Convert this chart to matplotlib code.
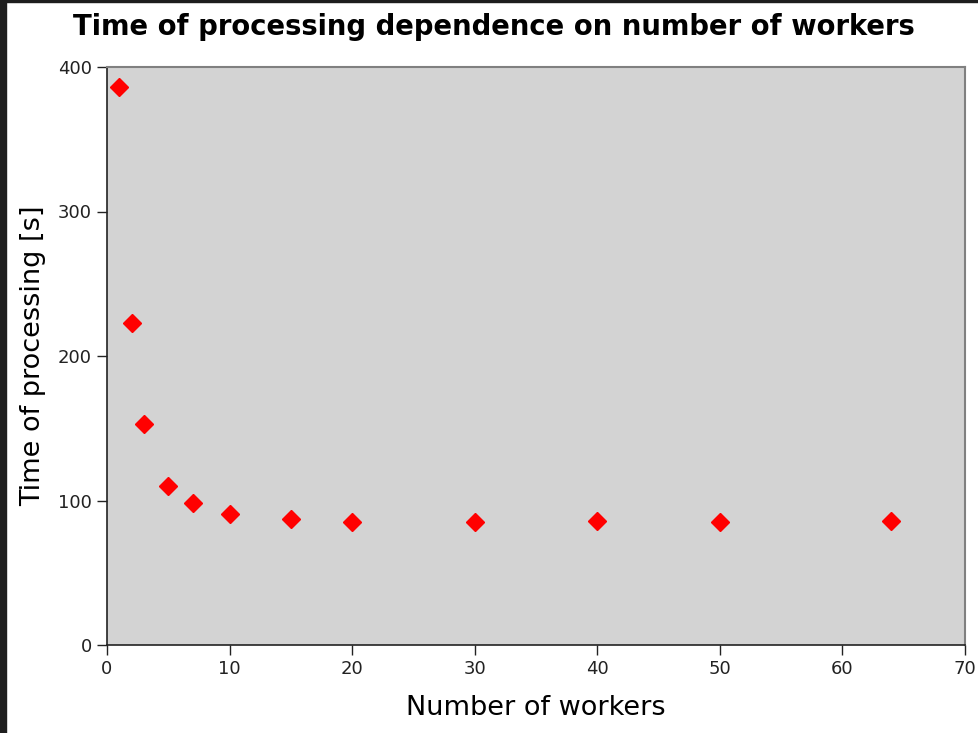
import matplotlib.pyplot as plt
from matplotlib.patches import Rectangle

plt.rcParams["font.family"] = ["DejaVu Sans"]

# workers vs processing time
workers = [1, 2, 3, 5, 7, 10, 15, 20, 30, 40, 50, 64]
times = [386, 223, 153, 110, 98, 91, 87, 85, 85, 86, 85, 86]

fig = plt.figure(figsize=(9.79, 7.33), dpi=100)
ax = fig.add_axes([107 / 979, 1 - 645 / 733, (965 - 107) / 979, (645 - 67) / 733])

ax.plot(workers, times, linestyle="none", marker="D", markersize=9.5,
        color="red", markeredgecolor="red")

ax.set_facecolor("#d3d3d3")
ax.set_xlim(0, 70)
ax.set_ylim(0, 400)
ax.set_xticks(range(0, 71, 10))
ax.set_yticks(range(0, 401, 100))

for side in ["top", "right"]:
    ax.spines[side].set_color("#808080")
    ax.spines[side].set_linewidth(1.5)
for side in ["left", "bottom"]:
    ax.spines[side].set_color("#222222")
    ax.spines[side].set_linewidth(1.2)

ax.tick_params(direction="out", length=7, width=1, labelsize=13,
               colors="#222222", top=False, right=False, pad=4)

# title is centred on the figure, not on the axes
ax.set_title("Time of processing dependence on number of workers",
             fontsize=19.8, fontweight="bold", pad=23, x=0.4505)
ax.set_xlabel("Number of workers", fontsize=19.5, labelpad=12)
ax.set_ylabel("Time of processing [s]", fontsize=19.5, labelpad=8)

# dark screenshot frame on the left and top
fig.patches.append(Rectangle((0, 0), 6 / 979, 1, transform=fig.transFigure,
                             color="#1e1e1e", zorder=10))
fig.patches.append(Rectangle((0, 1 - 2 / 733), 1, 2 / 733, transform=fig.transFigure,
                             color="#1e1e1e", zorder=10))

fig.savefig("out.png", dpi=100)
